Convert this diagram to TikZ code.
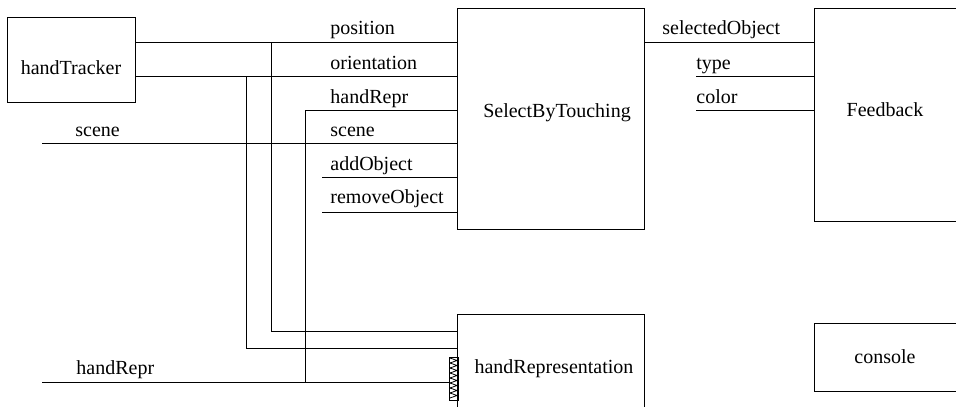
\documentclass[tikz,border=0pt]{standalone}
\usepackage{fontspec}
\setmainfont{Liberation Serif}

\begin{document}
\begin{tikzpicture}[
  x=0.5pt, y=-0.5pt,
  box/.style   = {draw, line width=0.65pt, inner sep=0pt, anchor=north west},
  title/.style = {anchor=base, inner sep=0pt, font=\fontsize{10}{12}\selectfont},
  port/.style  = {anchor=base west, inner sep=0pt, font=\fontsize{10}{12}\selectfont},
  wire/.style  = {line width=0.5pt},
  hatch/.style = {draw, line width=0.5pt, inner sep=0pt, anchor=north west},
]
  \useasboundingbox (0,0) rectangle (956,406);
  \clip (0,0) rectangle (956,406);

  % boxes: pixel grid, y down from the top left
  \node[box, minimum width=64pt, minimum height=42.5pt] (tracker) at (7,17) {};
  \node[box, minimum width=93.5pt, minimum height=110.5pt] (select) at (457,8) {};
  \node[box, minimum width=80pt, minimum height=106.5pt] (feedback) at (814,8) {};
  \node[box, minimum width=93.5pt, minimum height=63pt] (handrep) at (457,314) {};
  \node[box, minimum width=80pt, minimum height=34pt] (console) at (814,323) {};
  \node[hatch, minimum width=4.5pt, minimum height=21.5pt] (plug) at (449,357) {};

  \node[title] (tracker-t) at (71,75) {handTracker};
  \node[title] (select-t) at (557,118) {SelectByTouching};
  \node[title] (feedback-t) at (885,117) {Feedback};
  \node[title] (handrep-t) at (554,373) {handRepresentation};
  \node[title] (console-t) at (885,363) {console};

  % free ends of the wires
  \coordinate (scene-in) at (42,144);
  \coordinate (repr-in) at (42,382);
  \coordinate (add-in) at (322,178);
  \coordinate (remove-in) at (322,212);
  \coordinate (type-in) at (696,77);
  \coordinate (color-in) at (696,111);

  % port labels
  \node[port] (l-pos) at (330,35) {position};
  \node[port] (l-ori) at (330,70) {orientation};
  \node[port] (l-repr) at (330,104) {handRepr};
  \node[port] (l-scene) at (330,137) {scene};
  \node[port] (l-add) at (330,170) {addObject};
  \node[port] (l-remove) at (330,204) {removeObject};
  \node[port] (l-selobj) at (662,35) {selectedObject};
  \node[port] (l-type) at (696,70) {type};
  \node[port] (l-color) at (696,104) {color};
  \node[port] (l-scene-in) at (75,137) {scene};
  \node[port] (l-repr-in) at (76,374) {handRepr};

  % handTracker outputs and their branches
  \draw[wire] (tracker.east |- 0,43) -- (select.west |- 0,43);
  \draw[wire] (tracker.east |- 0,77) -- (select.west |- 0,77);
  \draw[wire] (271,43) -- (271,331) -- (handrep.west |- 0,331);
  \draw[wire] (246,77) -- (246,348) -- (handrep.west |- 0,348);

  % scene and handRepr inputs
  \draw[wire] (scene-in) -- (select.west |- scene-in);
  \draw[wire] (repr-in) -- (plug.west |- repr-in);
  \draw[wire] (305,382) -- (305,111) -- (select.west |- 0,111);
  \draw[wire] (add-in) -- (select.west |- add-in);
  \draw[wire] (remove-in) -- (select.west |- remove-in);

  % SelectByTouching to Feedback
  \draw[wire] (select.east |- 0,43) -- (feedback.west |- 0,43);
  \draw[wire] (type-in) -- (feedback.west |- type-in);
  \draw[wire] (color-in) -- (feedback.west |- color-in);

  % zigzag inside the plug
  \foreach \k in {0,...,7}
    \draw[line width=0.4pt] (450,358+5*\k) -- (457,360.5+5*\k) -- (450,363+5*\k);
\end{tikzpicture}
\end{document}
